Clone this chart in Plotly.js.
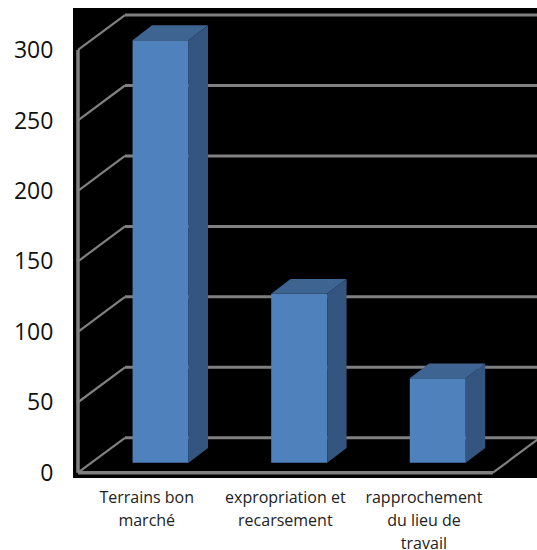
<!DOCTYPE html>
<html>
<head>
<meta charset="utf-8">
<script src="https://cdn.plot.ly/plotly-3.0.1.min.js"></script>
<style>html,body{margin:0;padding:0;background:#fff}#chart{width:537px;height:550px}</style>
</head>
<body>
<div id="chart"></div>
<script>
// Data
const categories = ["Terrains bon<br>marché", "expropriation et<br>recarsement", "rapprochement<br>du lieu de<br>travail"];
const values = [300, 120, 60];
const yTicks = [0, 50, 100, 150, 200, 250, 300];

// Fake-3D geometry, in axis units
const gridDepthX = 0.339, gridDepthY = 24.8;   // depth of the walls and floor
const wallLeft = -0.496, floorRight = 2.498, beyondRight = 2.84;
const barShift = 0.1, barWidth = 0.404, barBase = 7.0;
const barDepthX = 0.14, barDepthY = 10.5;

const gridColor = "#808080";
const frontColor = "#4f81bd", topColor = "#3e6491", sideColor = "#34557f";

const line = (x0, y0, x1, y1, width) => ({
  type: "line", layer: "below", xref: "x", yref: "y",
  x0, y0, x1, y1, line: {color: gridColor, width}
});

// Walls: each level runs along the side wall, then across the back wall
const shapes = [];
yTicks.forEach(v => {
  shapes.push(line(wallLeft, v, wallLeft + gridDepthX, v + gridDepthY, 2.2));
  shapes.push(line(wallLeft + gridDepthX, v + gridDepthY, beyondRight, v + gridDepthY, 3));
});
// Floor edge and front vertical edge
shapes.push(line(floorRight, 0, floorRight + gridDepthX, gridDepthY, 2.2));
shapes.push(line(wallLeft, 0, floorRight, 0, 3.5));
shapes.push(line(wallLeft, 0, wallLeft, yTicks[yTicks.length - 1], 3.5));

const positions = values.map((_, i) => i + barShift);

const traces = [{
  type: "bar",
  x: positions,
  y: values,
  base: values.map(() => barBase),
  width: barWidth,
  marker: {color: frontColor, line: {width: 0}},
  hoverinfo: "skip"
}];

// Top and side faces of each bar
values.forEach((v, i) => {
  const l = positions[i] - barWidth / 2, r = positions[i] + barWidth / 2, t = barBase + v;
  const face = (x, y, color) => ({
    type: "scatter", mode: "none", x, y, fill: "toself", fillcolor: color, hoverinfo: "skip"
  });
  traces.push(face([l, l + barDepthX, r + barDepthX, r, l],
                   [t, t + barDepthY, t + barDepthY, t, t], topColor));
  traces.push(face([r, r + barDepthX, r + barDepthX, r, r],
                   [barBase, barBase + barDepthY, t + barDepthY, t, barBase], sideColor));
});

// Tick text keeps a wide line pitch by setting a larger base size on the axis font
const tickText = categories.map(c => c.split("<br>")
  .map(s => '<span style="font-size:16px">' + s + '</span>').join("<br>"));

const layout = {
  width: 537, height: 550,
  margin: {l: 73, r: 0, t: 8, b: 72, pad: 0},
  paper_bgcolor: "#ffffff",
  plot_bgcolor: "#000000",
  showlegend: false,
  shapes,
  xaxis: {
    type: "linear", range: [-0.532, 2.816],
    tickmode: "array", tickvals: categories.map((_, i) => i), ticktext: tickText,
    tickangle: 0, showgrid: false, zeroline: false, showline: false,
    ticks: "outside", ticklen: 3, tickcolor: "rgba(0,0,0,0)",
    tickfont: {family: "'Open Sans', sans-serif", size: 17.7, color: "#222222"}
  },
  yaxis: {
    range: [-3.76, 329.8],
    tickmode: "array", tickvals: yTicks,
    showgrid: false, zeroline: false, showline: false,
    ticks: "outside", ticklen: 14, tickcolor: "rgba(0,0,0,0)",
    tickfont: {family: "'Open Sans', sans-serif", size: 23, color: "#111111"}
  }
};

Plotly.newPlot("chart", traces, layout, {displayModeBar: false, staticPlot: true});
</script>
</body>
</html>
